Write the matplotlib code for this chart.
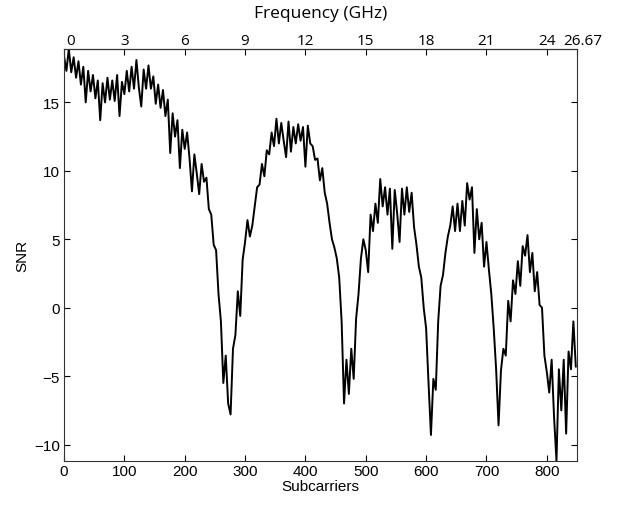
import numpy as np
import matplotlib
matplotlib.use("Agg")
import matplotlib.pyplot as plt
from matplotlib.transforms import ScaledTranslation

# SNR, one value every 4 subcarriers (0 .. 848)
snr = [
    18.4, 17.3, 18.9, 17.2, 18.3, 16.8, 18.0, 16.3, 17.6, 15.0,
    17.3, 15.8, 17.0, 15.3, 16.6, 13.7, 16.4, 15.0, 16.8, 15.2,
    16.6, 15.1, 17.0, 14.0, 16.5, 15.6, 17.3, 15.8, 17.6, 16.0,
    18.1, 16.1, 14.7, 17.4, 16.0, 17.7, 16.0, 16.9, 14.9, 16.3,
    14.6, 15.9, 14.0, 15.2, 11.3, 14.2, 12.5, 13.7, 10.2, 13.0,
    11.6, 12.8, 10.9, 8.5, 11.2, 9.8, 8.3, 10.5, 9.2, 9.5,
    7.2, 6.8, 4.6, 4.2, 1.0, -1.0, -5.5, -3.5, -7.0, -7.8,
    -3.0, -2.0, 1.2, -0.6, 3.5, 4.8, 6.4, 5.2, 6.0, 7.4,
    8.8, 9.0, 10.5, 9.6, 11.5, 11.2, 12.8, 11.8, 13.8, 12.0,
    13.5, 12.2, 11.0, 13.6, 11.4, 13.2, 12.0, 13.4, 12.2, 13.2,
    10.3, 13.3, 12.0, 11.8, 10.8, 10.9, 9.3, 10.2, 8.4, 7.6,
    6.2, 5.0, 4.4, 3.6, 2.2, -1.0, -7.0, -3.8, -6.3, -3.0,
    -5.2, -0.8, 1.0, 3.6, 5.0, 4.2, 2.6, 6.8, 5.6, 7.6,
    6.2, 9.4, 7.4, 8.8, 6.8, 8.7, 4.3, 8.6, 6.9, 4.8,
    8.7, 6.8, 8.8, 7.0, 8.4, 5.9, 4.6, 3.0, 2.2, 0.0,
    -1.5, -5.5, -9.3, -5.2, -6.0, -1.0, 1.6, 2.4, 4.0, 5.2,
    6.0, 7.4, 5.6, 7.6, 5.6, 7.8, 6.0, 9.1, 7.9, 8.8,
    4.0, 7.2, 5.0, 6.2, 3.0, 4.8, 2.8, 1.0, -1.5, -4.5,
    -8.6, -4.6, -3.0, -3.5, 0.5, -1.0, 2.0, 1.0, 3.4, 1.6,
    4.5, 3.8, 5.3, 2.6, 4.0, 1.2, 2.6, 0.2, 0.0, -3.5,
    -4.7, -6.2, -3.8, -8.0, -11.2, -4.5, -7.5, -3.8, -9.2, -3.2,
    -4.5, -1.0, -4.3,
]
subcarriers = np.arange(0, 850, 4)

sub_ticks = [0, 100, 200, 300, 400, 500, 600, 700, 800]
freq_ticks = [0, 100, 200, 300, 400, 500, 600, 700, 800, 850]
freq_labels = ["0", "3", "6", "9", "12", "15", "18", "21", "24", "26.67"]
snr_ticks = [-10, -5, 0, 5, 10, 15]

plain = ["Liberation Sans", "DejaVu Sans"]
office = ["Open Sans", "DejaVu Sans"]

fig = plt.figure(figsize=(6.2, 5.06), dpi=100)
ax = fig.add_axes([64 / 620, 44 / 506, 513 / 620, 412 / 506])

ax.plot(subcarriers, snr, color="black", lw=1.4)
ax.set_xlim(0, 850)
ax.set_ylim(min(snr), max(snr))

ax.set_xticks(sub_ticks)
ax.set_yticks(snr_ticks)
ax.set_xticklabels([str(t) for t in sub_ticks], family=plain, fontsize=11)
ax.set_yticklabels(["\u221210", "\u22125", "0", "5", "10", "15"], family=plain, fontsize=11)
ax.tick_params(direction="in", length=4, top=False, right=True)
ax.tick_params(axis="x", pad=2)
ax.tick_params(axis="y", pad=3)
ax.set_xlabel("Subcarriers", family=plain, fontsize=11, labelpad=1)
ax.set_ylabel("SNR", family=plain, fontsize=11, labelpad=3)
for s in ax.spines.values():
    s.set_color("#333333")

top = ax.secondary_xaxis("top")
top.set_xticks(freq_ticks)
top.set_xticklabels(freq_labels, family=office, fontsize=11)
top.tick_params(direction="in", length=4, pad=1)
top.set_xlabel("Frequency (GHz)", family=office, fontsize=12.5, labelpad=11)

# the end labels sit a little right of their ticks in the original
lbls = top.get_xticklabels()
for i, dx in [(0, 7), (len(lbls) - 1, 6)]:
    lbls[i].set_transform(lbls[i].get_transform() + ScaledTranslation(dx / 100, 0, fig.dpi_scale_trans))

fig.savefig("out.png", dpi=100)
